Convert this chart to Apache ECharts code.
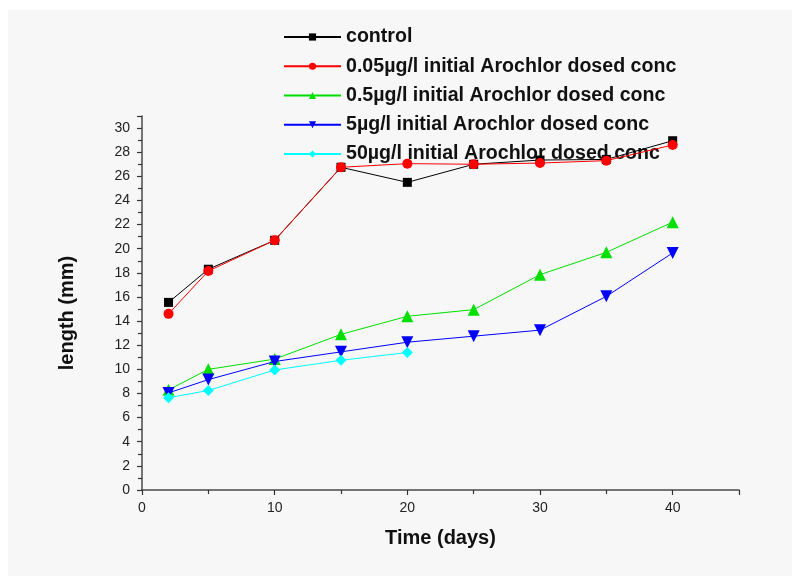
<!DOCTYPE html>
<html>
<head>
<meta charset="utf-8">
<script src="https://cdn.jsdelivr.net/npm/echarts@6/dist/echarts.min.js"></script>
<style>html,body{margin:0;padding:0;background:#fff;}#c{width:792px;height:576px;}</style>
</head>
<body>
<div id="c"></div>
<script>
const days = [2, 5, 10, 15, 20, 25, 30, 35, 40];
const seriesNames = [
  'control',
  '0.05\u00b5g/l initial Arochlor dosed conc',
  '0.5\u00b5g/l initial Arochlor dosed conc',
  '5\u00b5g/l initial Arochlor dosed conc',
  '50\u00b5g/l initial Arochlor dosed conc'
];
const control = [15.55, 18.3, 20.7, 26.75, 25.5, 27.0, 27.35, 27.4, 28.95];
const dose005 = [14.6, 18.15, 20.7, 26.75, 27.05, 27.0, 27.1, 27.3, 28.6];
const dose05 = [8.3, 10.0, 10.85, 12.9, 14.4, 14.95, 17.85, 19.7, 22.2];
const dose5 = [8.05, 9.15, 10.65, 11.45, 12.25, 12.75, 13.25, 16.05, 19.65];
const dose50 = [7.65, 8.25, 9.95, 10.75, 11.4];
const yTicks = [0, 2, 4, 6, 8, 10, 12, 14, 16, 18, 20, 22, 24, 26, 28, 30];
const xTicks = [0, 10, 20, 30, 40];

const colors = ['#000000', '#ff0000', '#00e000', '#0000ff', '#00ffff'];
const symbols = ['rect', 'circle', 'triangle', 'triangle', 'diamond'];
const symbolRotates = [0, 0, 0, 180, 0];
const symbolSizes = [9, 10, 12, 12, 11];
const values = [control, dose005, dose05, dose5, dose50];

function pairs(arr) { return arr.map((v, i) => [days[i], v]); }

const series = values.map((arr, i) => ({
  name: seriesNames[i],
  type: 'line',
  data: pairs(arr),
  symbol: symbols[i],
  symbolRotate: symbolRotates[i],
  symbolSize: symbolSizes[i],
  showAllSymbol: true,
  itemStyle: { color: colors[i] },
  lineStyle: { color: colors[i], width: 1 },
  z: 5 + i,
  animation: false
}));

const chart = echarts.init(document.getElementById('c'), null, { renderer: 'canvas' });
chart.setOption({
  backgroundColor: '#ffffff',
  animation: false,
  graphic: [{
    type: 'rect', left: 8, top: 10, z: -100,
    shape: { width: 784, height: 566 },
    style: { fill: '#f7f7f7' }
  }],
  grid: { left: 142, right: 53, top: 116, bottom: 86, containLabel: false },
  legend: {
    orient: 'vertical',
    left: 278, top: 22,
    itemWidth: 57, itemHeight: 9,
    itemGap: 9.25,
    z: 1,
    textStyle: { fontFamily: 'Liberation Sans, Arial', fontSize: 19.6, fontWeight: 'bold', color: '#111', lineHeight: 20 },
    data: seriesNames
  },
  xAxis: {
    type: 'value', min: 0, max: 45, interval: 10,
    name: 'Time (days)', nameLocation: 'middle', nameGap: 38,
    nameTextStyle: { fontFamily: 'Liberation Sans, Arial', fontSize: 20, fontWeight: 'bold', color: '#111' },
    axisLine: { lineStyle: { color: '#4a4a4a', width: 1.5 } },
    axisTick: { show: true, length: 5, inside: false, lineStyle: { color: '#333', width: 1.2 } },
    minorTick: { show: true, splitNumber: 2, length: 4, lineStyle: { color: '#333', width: 1.2 } },
    axisLabel: { fontFamily: 'Liberation Sans, Arial', fontSize: 14, color: '#222', margin: 11,
      showMaxLabel: false,
      formatter: v => xTicks.includes(v) ? String(v) : '' },
    splitLine: { show: false }
  },
  yAxis: {
    type: 'value', min: 0, max: 31, interval: 2,
    name: 'length (mm)', nameLocation: 'middle', nameGap: 65,
    nameTextStyle: { fontFamily: 'Liberation Sans, Arial', fontSize: 20, fontWeight: 'bold', color: '#111', padding: [0, 20, 0, 0] },
    axisLine: { lineStyle: { color: '#4a4a4a', width: 1.5 } },
    axisTick: { show: true, length: 5, inside: false, lineStyle: { color: '#333', width: 1.2 } },
    minorTick: { show: true, splitNumber: 2, length: 4, lineStyle: { color: '#333', width: 1.2 } },
    axisLabel: { fontFamily: 'Liberation Sans, Arial', fontSize: 14, color: '#222', margin: 12,
      showMaxLabel: false,
      formatter: v => yTicks.includes(v) ? String(v) : '' },
    splitLine: { show: false }
  },
  series: series
});
</script>
</body>
</html>
